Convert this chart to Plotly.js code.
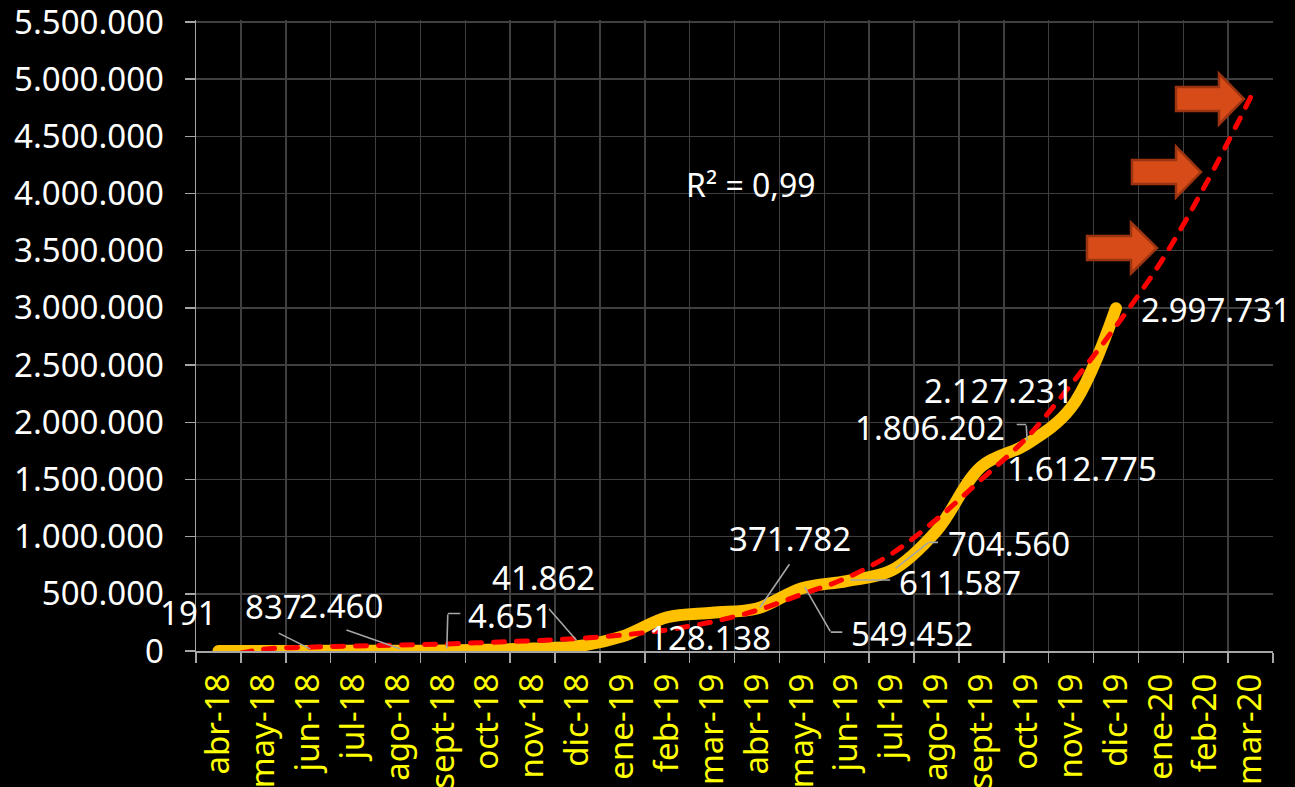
<!DOCTYPE html>
<html>
<head>
<meta charset="utf-8">
<script src="https://cdn.plot.ly/plotly-3.0.1.min.js"></script>
<style>
  html, body { margin: 0; padding: 0; background: #000; }
  #chart { width: 1295px; height: 787px; }
  .scatterlayer .js-line { stroke-linecap: round; }
</style>
</head>
<body>
<div id="chart"></div>
<script>
// ---------- DATA ----------
const categories = ['abr-18','may-18','jun-18','jul-18','ago-18','sept-18','oct-18','nov-18','dic-18',
  'ene-19','feb-19','mar-19','abr-19','may-19','jun-19','jul-19','ago-19','sept-19','oct-19','nov-19','dic-19',
  'ene-20','feb-20','mar-20'];

// actual cumulative values (abr-18 .. dic-19)
const actualValues = [191, 500, 837, 1500, 2460, 4651, 12000, 22000, 41862,
  128138, 295000, 335000, 371782, 549452, 611587, 704560, 1050000, 1612775, 1806202, 2127231, 2997731];

// polynomial trend line (abr-18 .. mar-20)
const trendValues = [-60000, 15000, 33000, 44000, 52000, 61000, 75000, 90000, 110000,
  140000, 185000, 255000, 355000, 495000, 640000, 850000, 1150000, 1500000, 1860000, 2330000, 2840000,
  3400000, 4080000, 4840000];

const yTickValues = [0, 500000, 1000000, 1500000, 2000000, 2500000, 3000000, 3500000, 4000000, 4500000, 5000000, 5500000];
const rSquaredText = 'R² = 0,99';

// indices of the points that carry a data label
const labelledIdx = [0, 2, 4, 5, 8, 9, 12, 13, 14, 15, 17, 18, 19, 20];

// ---------- LAYOUT HELPERS ----------
const W = 1295, H = 787;
const M = { l: 196, r: 22, t: 20, b: 136 };
const PW = W - M.l - M.r, PH = H - M.t - M.b;
const Y_TOP_PX = 22;                       // pixel row of the 5.500.000 gridline
const yMax = 5500000 * PH / (H - M.b - Y_TOP_PX);
const px = x => (x - M.l) / PW;
const py = y => (H - M.b - y) / PH;

function fmt(v) {
  return String(Math.round(v)).replace(/\B(?=(\d{3})+(?!\d))/g, '.');
}

// label offsets (pixels from point, dy down) keyed by index
const labelOffsets = {
  0: [-30, -38], 2: [-35, -44], 4: [-57, -45], 5: [67, -35], 8: [-34, -69],
  9: [88, 1], 12: [33, -70], 13: [110, 45], 14: [113, 1], 15: [117, -27],
  17: [101, 2], 18: [-96, -17], 19: [-72, -17], 20: [100, 1]
};
// leader lines: [index, shiftX, shiftY(down), ax, ay(down)]
const leaders = [
  [2, 2, -2, -32, -16],
  [4, 2, -2, -54, -19],
  [5, 4, -2, 1, -35],
  [5, 5, -37, 13, 0],
  [8, -1, -6, -28, -32],
  [12, 3, -1, 30, -44],
  [13, 3, -1, 26, 45],
  [13, 29, 44, 12, 0],
  [14, 4, -1, 40, 0],
  [15, 4, -2, 33, -26],
  [15, 37, -28, 10, 0],
  [18, 1, -4, -1, -16],
  [18, 0, -20, -10, 0]
];

const annotations = [];
labelledIdx.forEach(i => {
  const o = labelOffsets[i];
  annotations.push({
    x: categories[i], y: actualValues[i], xref: 'x', yref: 'y',
    text: fmt(actualValues[i]), showarrow: false,
    xshift: o[0], yshift: -o[1],
    xanchor: 'center', yanchor: 'middle',
    font: { family: 'Noto Sans', size: 33, color: '#FFFFFF' }
  });
});
leaders.forEach(l => {
  const i = l[0];
  annotations.push({
    x: categories[i], y: actualValues[i], xref: 'x', yref: 'y',
    text: ' ', showarrow: true, arrowhead: 0, arrowwidth: 1.6, arrowcolor: '#A6A6A6',
    standoff: 0, startstandoff: 0, borderpad: 0,
    xshift: l[1], yshift: -l[2], ax: l[3], ay: l[4],
    font: { size: 1, color: 'rgba(0,0,0,0)' }
  });
});
annotations.push({
  x: px(751), y: py(184), xref: 'paper', yref: 'paper', showarrow: false,
  text: rSquaredText, xanchor: 'center', yanchor: 'middle',
  font: { family: 'Noto Sans', size: 32, color: '#FFFFFF' }
});

// decorative block arrows (pixel geometry -> paper)
function blockArrow(L, H_, T, c, bodyH, headH) {
  const bt = c - bodyH / 2, bb = c + bodyH / 2, ht = c - headH / 2, hb = c + headH / 2;
  const pts = [[L, bt], [H_, bt], [H_, ht], [T, c], [H_, hb], [H_, bb], [L, bb]];
  return 'M' + pts.map(p => px(p[0]).toFixed(5) + ',' + py(p[1]).toFixed(5)).join(' L') + ' Z';
}
const arrowGeom = [
  [1087, 1131, 1157, 248],
  [1132, 1176, 1201, 172],
  [1176, 1219, 1244, 99]
];
const shapes = arrowGeom.map(g => ({
  type: 'path', xref: 'paper', yref: 'paper', layer: 'above',
  path: blockArrow(g[0], g[1], g[2], g[3], 24, 51),
  fillcolor: '#D64B18', line: { color: '#9C3411', width: 2.5 }
}));

// ---------- TRACES ----------
const actualTrace = {
  type: 'scatter', mode: 'lines',
  x: categories.slice(0, actualValues.length), y: actualValues,
  line: { color: '#FFC000', width: 12, shape: 'spline', smoothing: 1 },
  hoverinfo: 'skip', showlegend: false
};
const trendTrace = {
  type: 'scatter', mode: 'lines',
  x: categories, y: trendValues,
  line: { color: '#FF0000', width: 5, shape: 'spline', smoothing: 1, dash: '11px,12px' },
  hoverinfo: 'skip', showlegend: false
};

const layout = {
  width: W, height: H,
  margin: M,
  paper_bgcolor: '#000000', plot_bgcolor: '#000000',
  separators: ',.',
  showlegend: false,
  xaxis: {
    type: 'category', categoryorder: 'array', categoryarray: categories,
    range: [-0.5, categories.length - 0.5],
    tickmode: 'linear', tick0: 0, dtick: 1,
    tickson: 'boundaries', ticks: 'outside', ticklen: 10, tickwidth: 1.5, tickcolor: '#A6A6A6',
    showgrid: true, gridcolor: '#3F3F3F', gridwidth: 1.5,
    showline: true, linecolor: '#A6A6A6', linewidth: 1.5,
    tickangle: -90, ticklabelstandoff: 8, ticklabeloverflow: 'allow',
    tickfont: { family: 'Noto Sans', size: 33, color: '#FFFF00' },
    automargin: false, fixedrange: true
  },
  yaxis: {
    range: [0, yMax],
    tickmode: 'array', tickvals: yTickValues, ticktext: yTickValues.map(fmt),
    ticks: 'outside', ticklen: 10, tickwidth: 1.5, tickcolor: '#A6A6A6',
    showgrid: true, gridcolor: '#3F3F3F', gridwidth: 1.5,
    showline: true, linecolor: '#A6A6A6', linewidth: 1.5, zeroline: false,
    ticklabelstandoff: 14, ticklabeloverflow: 'allow',
    tickfont: { family: 'Noto Sans', size: 33, color: '#FFFFFF' },
    automargin: false, fixedrange: true
  },
  annotations: annotations,
  shapes: shapes
};

Plotly.newPlot('chart', [actualTrace, trendTrace], layout, { staticPlot: true, displayModeBar: false });
</script>
</body>
</html>
